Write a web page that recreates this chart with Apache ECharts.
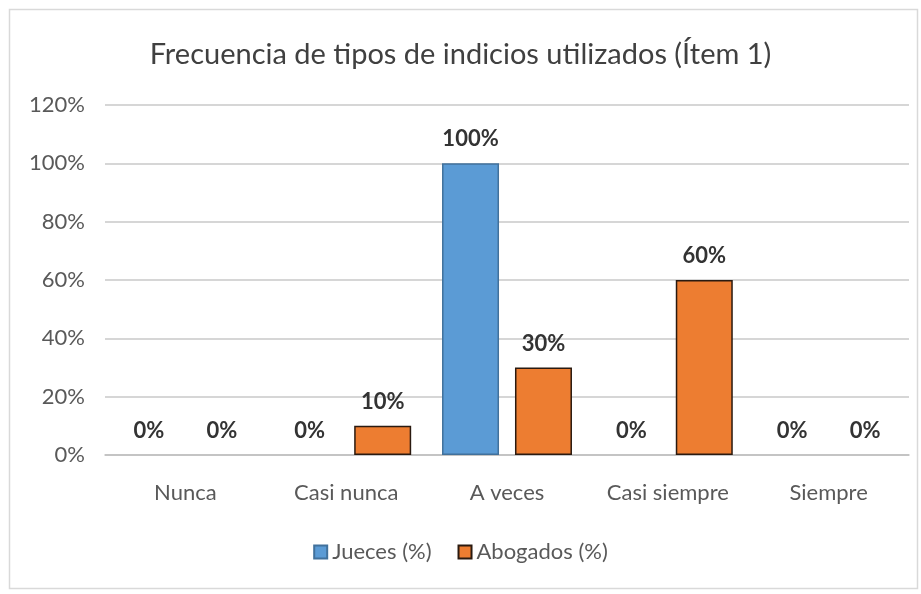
<!DOCTYPE html>
<html>
<head>
<meta charset="utf-8">
<script type="text/javascript" src="https://cdn.jsdelivr.net/npm/echarts@6/dist/echarts.min.js"></script>
<style>
	html, body { margin: 0; padding: 0; background: #fff; }
	#main { width: 921px; height: 594px; }
</style>
</head>
<body>
<div id="main"></div>
<script type="text/javascript">
	// datos del gráfico
	var categorias = ['Nunca', 'Casi nunca', 'A veces', 'Casi siempre', 'Siempre'];
	var jueces = [0, 0, 100, 0, 0];
	var abogados = [0, 10, 30, 60, 0];
	var nombresSeries = ['Jueces (%)', 'Abogados (%)'];

	var fuente = 'Lato, "Open Sans", sans-serif';
	var myChart = echarts.init(document.getElementById('main'));

	// las barras de 0% no muestran borde
	function sinBordeEnCero(valores) {
		return valores.map(function(v) {
			return v === 0 ? { value : v, itemStyle : { borderWidth : 0 } } : v;
		});
	}

	var etiqueta = {
		show : true,
		position : 'top',
		distance : 13,
		formatter : '{c}%',
		fontFamily : fuente,
		fontWeight : 'bold',
		fontSize : 22,
		color : '#333333'
	};

	var option = {
		backgroundColor : '#ffffff',
		animation : false,
		graphic : [ {
			type : 'rect',
			left : 7,
			top : 7,
			shape : { width : 908, height : 579 },
			style : { fill : 'none', stroke : '#d9d9d9', lineWidth : 1.5 },
			silent : true
		} ],
		title : {
			text : 'Frecuencia de tipos de indicios utilizados (Ítem 1)',
			left : 'center',
			top : 35,
			textStyle : {
				fontFamily : fuente,
				fontWeight : 'normal',
				fontSize : 29,
				color : '#404040'
			}
		},
		legend : {
			data : nombresSeries,
			bottom : 26,
			left : 'center',
			itemWidth : 13,
			itemHeight : 13,
			itemGap : 26,
			icon : 'rect',
			textStyle : {
				fontFamily : fuente,
				fontSize : 22,
				color : '#595959'
			}
		},
		grid : {
			left : 105,
			right : 12,
			top : 105,
			bottom : 139,
			containLabel : false
		},
		xAxis : {
			type : 'category',
			data : categorias,
			axisTick : { show : false },
			axisLine : { lineStyle : { color : '#bfbfbf', width : 1.5 } },
			axisLabel : {
				margin : 27,
				fontFamily : fuente,
				fontSize : 22,
				color : '#595959'
			}
		},
		yAxis : {
			type : 'value',
			min : 0,
			max : 120,
			interval : 20,
			axisLine : { show : false },
			axisTick : { show : false },
			axisLabel : {
				formatter : '{value}%',
				margin : 20,
				fontFamily : fuente,
				fontSize : 22,
				color : '#595959'
			},
			splitLine : { lineStyle : { color : '#c8c8c8', width : 1.5 } }
		},
		series : [ {
			name : nombresSeries[0],
			type : 'bar',
			data : sinBordeEnCero(jueces),
			barWidth : 57,
			barGap : '28%',
			itemStyle : {
				color : '#5b9bd5',
				borderColor : '#41719c',
				borderWidth : 1.5
			},
			label : etiqueta
		}, {
			name : nombresSeries[1],
			type : 'bar',
			data : sinBordeEnCero(abogados),
			barWidth : 57,
			itemStyle : {
				color : '#ed7d31',
				borderColor : '#2a1a10',
				borderWidth : 1.5
			},
			label : etiqueta
		} ]
	};
	myChart.setOption(option);
</script>
</body>
</html>
